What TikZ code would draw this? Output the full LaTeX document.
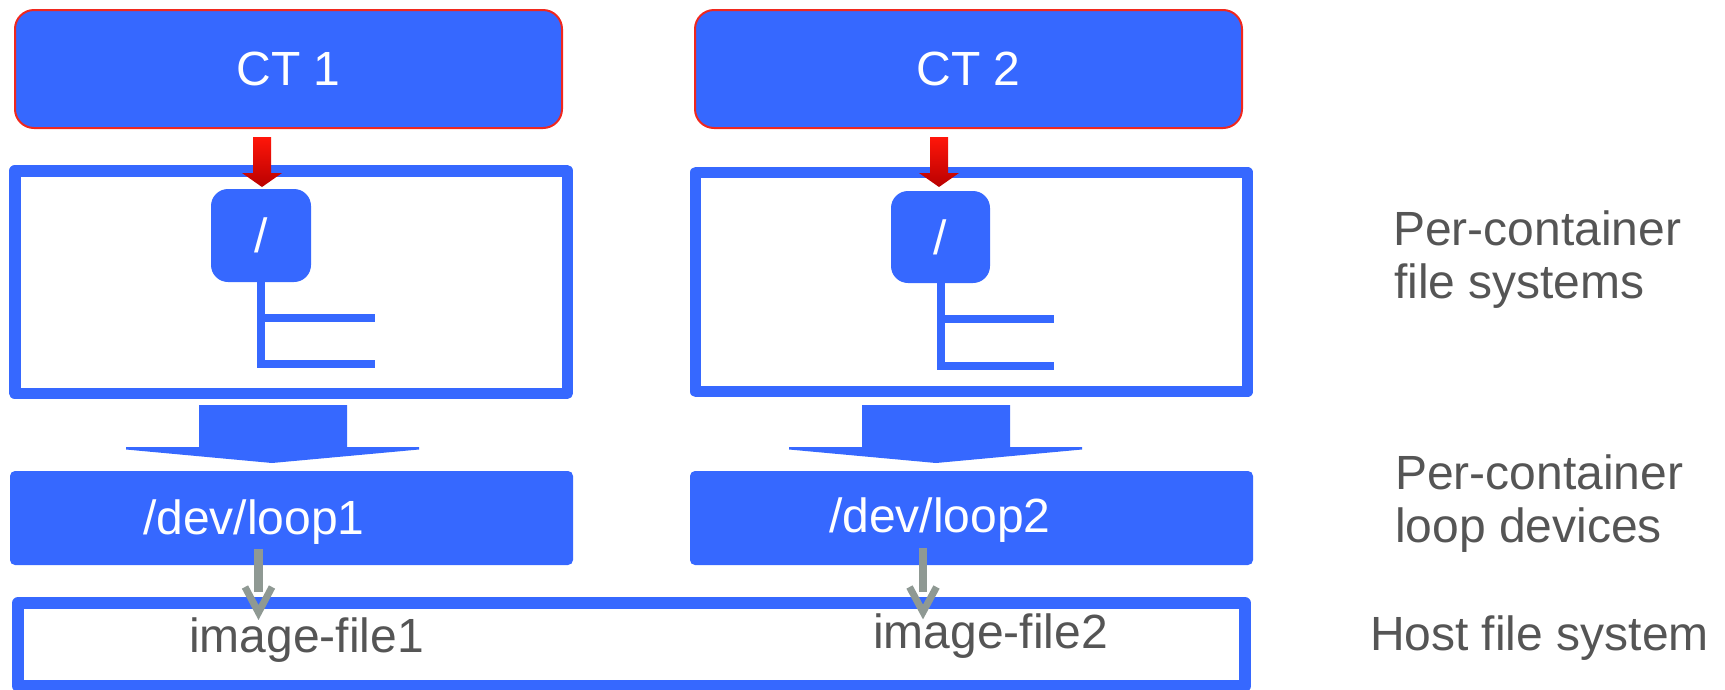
\documentclass[tikz,border=0pt]{standalone}
\usepackage{fontspec}
\setmainfont{Liberation Sans}
\definecolor{boxblue}{RGB}{54,104,255}
\definecolor{ctred}{RGB}{240,40,30}
\definecolor{arrowtop}{RGB}{255,22,10}
\definecolor{arrowbot}{RGB}{185,0,0}
\definecolor{linkgray}{RGB}{143,153,147}
\definecolor{labelgray}{RGB}{85,85,85}

\begin{document}
\begin{tikzpicture}[x=1pt,y=-1pt,
  every node/.style={inner sep=0pt, outer sep=0pt},
  bigfont/.style={font=\fontsize{48}{54}\selectfont},
  ctbox/.style={fill=boxblue, draw=ctred, line width=2pt, rounded corners=19pt,
                bigfont, text=white, minimum width=547, minimum height=118},
  rootbox/.style={fill=boxblue, rounded corners=17pt, bigfont, text=white},
  fsframe/.style={draw=boxblue, line width=11.5pt, line join=round},
  loopbox/.style={fill=boxblue, rounded corners=5pt, minimum width=563, minimum height=94},
  hostframe/.style={draw=boxblue, line width=12pt, line join=round},
  looptext/.style={bigfont, text=white, anchor=base west},
  graytext/.style={bigfont, text=labelgray, anchor=base west},
  treeline/.style={draw=boxblue, line width=8pt},
  blockarrow/.style={fill=boxblue},
  redarrow/.style={top color=arrowtop, bottom color=arrowbot},
  linkshaft/.style={draw=linkgray, line width=8.5pt},
  linkhead/.style={draw=linkgray, line width=7pt, line join=miter}
]
\useasboundingbox (0,0) rectangle (1725,689);

% container boxes
\node[ctbox] (ct1) at (288.5,69) {CT 1};
\node[ctbox] (ct2) at (968.5,69) {CT 2};

% per-container file system frames
\node[fsframe, minimum width=552.5, minimum height=222.5] (fs1) at (291,282) {};
\node[fsframe, minimum width=551.75, minimum height=219] (fs2) at (971.6,282) {};

% root directories
\node[rootbox, minimum width=100, minimum height=93] (root1) at (261,235.5) {/};
\node[rootbox, minimum width=99, minimum height=92] (root2) at (940.5,237) {/};

% directory trees
\coordinate (t1a) at (261,364);
\coordinate (t1b) at (375,364);
\coordinate (t1c) at (261,317.5);
\coordinate (t1d) at (375,317.5);
\draw[treeline] (root1.south) -- (t1a) -- (t1b);
\draw[treeline] (t1c) -- (t1d);
\coordinate (t2a) at (940.5,366);
\coordinate (t2b) at (1054,366);
\coordinate (t2c) at (940.5,318.5);
\coordinate (t2d) at (1054,318.5);
\draw[treeline] (root2.south) -- (t2a) -- (t2b);
\draw[treeline] (t2c) -- (t2d);

% red arrows from containers to their roots
\shade[redarrow] (253,137) -- (271,137) -- (271,173) -- (282,173) -- (262,187)
  -- (242,173) -- (253,173) -- cycle;
\shade[redarrow] (930,137) -- (948,137) -- (948,173) -- (959,173) -- (939,187)
  -- (919,173) -- (930,173) -- cycle;

% block arrows from file systems to loop devices
\fill[blockarrow] (199,405) -- (347,405) -- (347,447) -- (419,447) -- (419,449.5)
  -- (272,463) -- (126,449.5) -- (126,447) -- (199,447) -- cycle;
\fill[blockarrow] (862,405) -- (1010,405) -- (1010,447) -- (1082,447) -- (1082,449.5)
  -- (936,463) -- (789,449.5) -- (789,447) -- (862,447) -- cycle;

% loop devices
\node[loopbox] (loop1) at (291.5,518) {};
\node[loopbox] (loop2) at (971.5,518) {};
\node[looptext] (loop1t) at (143,534) {/dev/loop1};
\node[looptext] (loop2t) at (829,532) {/dev/loop2};

% host file system
\node[hostframe, minimum width=1227, minimum height=83] (host) at (631.5,644.5) {};
\node[graytext] (img1) at (189,652) {image-file1};
\node[graytext] (img2) at (873,648) {image-file2};

% links from loop devices to image files
\coordinate (g1s) at (258.5,549);
\coordinate (g1e) at (258.5,592);
\draw[linkshaft] (g1s) -- (g1e);
\draw[linkhead] (245,587) -- (258.5,612.5) -- (272,587);
\coordinate (g2s) at (923,548);
\coordinate (g2e) at (923,592);
\draw[linkshaft] (g2s) -- (g2e);
\draw[linkhead] (909.5,587) -- (923,612) -- (936.5,587);

% layer labels
\node[graytext] (lab1a) at (1393,245) {Per-container};
\node[graytext] (lab1b) at (1394,298) {file systems};
\node[graytext] (lab2a) at (1395,489) {Per-container};
\node[graytext] (lab2b) at (1395,542) {loop devices};
\node[graytext] (lab3) at (1370,650) {Host file system};
\end{tikzpicture}
\end{document}
